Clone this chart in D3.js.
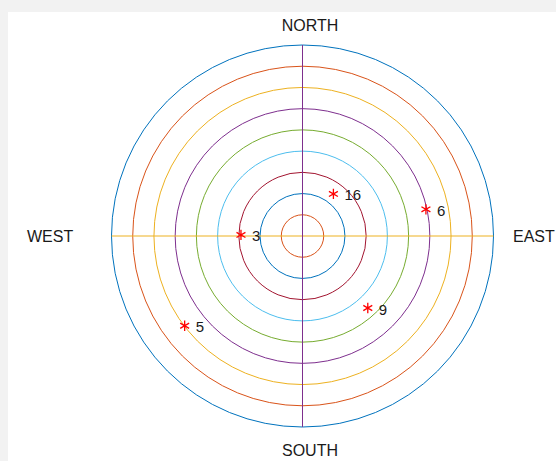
<!DOCTYPE html>
<html>
<head>
<meta charset="utf-8">
<script src="https://cdn.jsdelivr.net/npm/d3@7"></script>
<style>
  html, body { margin: 0; padding: 0; background: #f2f2f2; }
  svg { display: block; }
  text { font-family: "Liberation Sans", Arial, Helvetica, sans-serif; fill: #1a1a1a; }
</style>
</head>
<body>
<script>
// Concentric reference rings (outer to inner) and their line colours
const ringRadii = [9, 8, 7, 6, 5, 4, 3, 2, 1];
const ringColors = ["#0072BD", "#D95319", "#EDB120", "#7E2F8E", "#77AC30",
                    "#4DBEEE", "#A2142F", "#0072BD", "#D95319"];
// Cross-hair axes through the centre
const axisLines = [
  { name: "east-west", angle: 0, color: "#EDB120" },
  { name: "north-south", angle: 90, color: "#7E2F8E" }
];
// Compass labels
const compassNames = ["NORTH", "EAST", "SOUTH", "WEST"];
// Marked points: angle (degrees, counter-clockwise from east), radius, label
const pointAngles = [53.7, 12.2, 179, -47.8, 217.3];
const pointRadii = [2.46, 5.95, 2.9, 4.58, 6.98];
const pointLabels = ["16", "6", "3", "9", "5"];

const W = 556, H = 461;
const cx = 302.5, cy = 236, R = 191;

const svg = d3.select("body").append("svg").attr("width", W).attr("height", H);
svg.append("rect").attr("x", 0).attr("y", 0).attr("width", W).attr("height", H).attr("fill", "#f2f2f2");
svg.append("rect").attr("x", 8).attr("y", 12).attr("width", W - 8).attr("height", H - 12).attr("fill", "#ffffff");

const r = d3.scaleLinear().domain([0, 9]).range([0, R]);
const g = svg.append("g").attr("transform", `translate(${cx},${cy})`);

// Rings
g.selectAll("circle.ring").data(ringRadii).join("circle")
  .attr("class", "ring")
  .attr("r", d => r(d))
  .attr("fill", "none")
  .attr("stroke", (d, i) => ringColors[i])
  .attr("stroke-width", 1);

// Axis lines spanning the full diameter
g.selectAll("line.axis").data(axisLines).join("line")
  .attr("class", "axis")
  .attr("x1", d => -r(9) * Math.cos(d.angle * Math.PI / 180))
  .attr("y1", d => r(9) * Math.sin(d.angle * Math.PI / 180))
  .attr("x2", d => r(9) * Math.cos(d.angle * Math.PI / 180))
  .attr("y2", d => -r(9) * Math.sin(d.angle * Math.PI / 180))
  .attr("stroke", d => d.color)
  .attr("stroke-width", 1);

// Compass labels
const compassPos = {
  NORTH: { x: 310 - cx, y: 25 - cy, anchor: "middle" },
  SOUTH: { x: 310 - cx, y: 450 - cy, anchor: "middle" },
  WEST:  { x: 27 - cx,  y: 0, anchor: "start" },
  EAST:  { x: 513 - cx, y: 0, anchor: "start" }
};
g.selectAll("text.compass").data(compassNames).join("text")
  .attr("class", "compass")
  .attr("x", d => compassPos[d].x)
  .attr("y", d => compassPos[d].y)
  .attr("text-anchor", d => compassPos[d].anchor)
  .attr("dominant-baseline", "central")
  .attr("font-size", 16)
  .text(d => d);

// Points
const pts = pointAngles.map((a, i) => {
  const t = a * Math.PI / 180;
  return { x: r(pointRadii[i]) * Math.cos(t), y: -r(pointRadii[i]) * Math.sin(t), label: pointLabels[i] };
});
const star = d3.symbol().type(d3.symbolAsterisk).size(75);
g.selectAll("path.pt").data(pts).join("path")
  .attr("class", "pt")
  .attr("transform", d => `translate(${d.x},${d.y})`)
  .attr("d", star)
  .attr("fill", "none")
  .attr("stroke", "#ff0000")
  .attr("stroke-width", 1.3);
g.selectAll("text.lbl").data(pts).join("text")
  .attr("class", "lbl")
  .attr("x", d => d.x + 11)
  .attr("y", d => d.y + 1)
  .attr("dominant-baseline", "central")
  .attr("font-size", 15)
  .text(d => d.label);
</script>
</body>
</html>
